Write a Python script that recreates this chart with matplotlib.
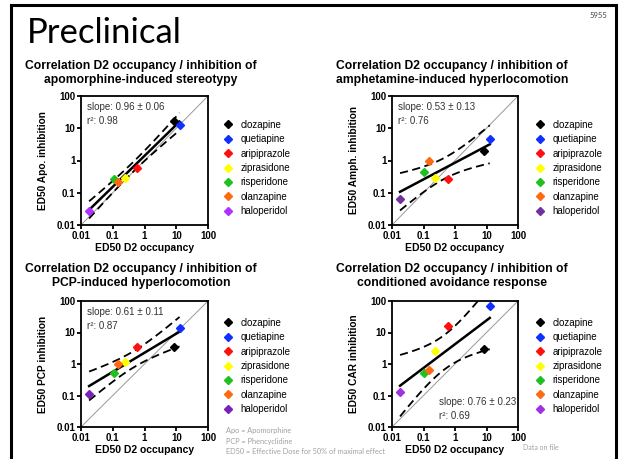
import numpy as np
import matplotlib
matplotlib.use("Agg")
import matplotlib.pyplot as plt
from matplotlib.lines import Line2D
from matplotlib.patches import Rectangle

W, H = 620, 459

drugs = ["clozapine", "quetiapine", "aripiprazole", "ziprasidone",
         "risperidone", "olanzapine", "haloperidol"]
colors = ["#000000", "#1030ff", "#ff1010", "#ffff00", "#20c020", "#ff6a10", "#a030f0"]

# ED50 D2 occupancy (x, same for all panels)
d2_occ = [8.4, 12.7, 0.59, 0.24, 0.107, 0.148, 0.018]

# ED50 of each behavioural test (y)
apo = [16.4, 12.7, 0.59, 0.28, 0.26, 0.22, 0.028]
amph = [2.0, 4.5, 0.26, 0.29, 0.45, 1.0, 0.065]
pcp = [3.5, 13.6, 3.56, 1.18, 0.51, 1.0, 0.115]
car = [3.1, 71.0, 16.3, 2.6, 0.51, 0.665, 0.13]

halo_colors = ["#b030ff", "#7030a0", "#7a20b8", "#a030e0"]

titles = ["Correlation D2 occupancy / inhibition of\napomorphine-induced stereotypy",
          "Correlation D2 occupancy / inhibition of\namphetamine-induced hyperlocomotion",
          "Correlation D2 occupancy / inhibition of\nPCP-induced hyperlocomotion",
          "Correlation D2 occupancy / inhibition of\nconditioned avoidance response"]
ylabels = ["ED50 Apo. inhibition", "ED50 Amph. inhibition",
           "ED50 PCP inhibition", "ED50 CAR inhibition"]
stats = ["slope: 0.96 \u00b1 0.06\nr\u00b2: 0.98",
         "slope: 0.53 \u00b1 0.13\nr\u00b2: 0.76",
         "slope: 0.61 \u00b1 0.11\nr\u00b2: 0.87",
         "slope: 0.76 \u00b1 0.23\nr\u00b2: 0.69"]
footnotes = ["Apo = Apomorphine", "PCP = Phencyclidine",
             "ED50 = Effective Dose for 50% of maximal effect"]
ticks = [0.01, 0.1, 1, 10, 100]
tick_labels = ["0.01", "0.1", "1", "10", "100"]
T95 = 2.5706  # t value, df = 5

plt.rcParams['font.family'] = ['Liberation Sans', 'DejaVu Sans']

fig = plt.figure(figsize=(W / 100, H / 100), dpi=100)

# slide frame
fig.patches.append(Rectangle((11 / W, -0.05), (616 - 11) / W, 1.05 - 5 / H,
                             transform=fig.transFigure, fill=False,
                             edgecolor="black", lw=2.2))
fig.text(27 / W, 1 - 33 / H, "Preclinical", family="Lato", fontsize=25,
         va="center", ha="left")
fig.text(607 / W, 1 - 15 / H, "5955", family="Lato", fontsize=5.5,
         color="#444444", ha="right", va="center")

# pixel boxes: left, right, top, bottom
boxes = [(81, 208, 96, 225), (392, 518, 96, 225),
         (81, 208, 301, 427), (392, 518, 301, 427)]
title_y = [60, 60, 263, 263]
title_x = [141, 452, 141, 452]
leg_pos = [(218, 115), (530, 115), (218, 313), (530, 313)]
ydata = [apo, amph, pcp, car]


def draw_panel(i):
    l, r, t, b = boxes[i]
    ax = fig.add_axes([l / W, 1 - b / H, (r - l) / W, (b - t) / H])
    ax.set_xscale("log")
    ax.set_yscale("log")
    ax.set_xlim(0.01, 100)
    ax.set_ylim(0.01, 100)
    ax.axline((0.01, 0.01), (100, 100), color="#999999", lw=0.7, zorder=1)

    lx = np.log10(d2_occ)
    ly = np.log10(ydata[i])
    n = len(lx)
    slope, icpt = np.polyfit(lx, ly, 1)
    resid = ly - (slope * lx + icpt)
    s = np.sqrt(np.sum(resid ** 2) / (n - 2))
    sxx = np.sum((lx - lx.mean()) ** 2)
    xs = np.linspace(lx.min(), lx.max(), 100)
    fit = slope * xs + icpt
    half = T95 * s * np.sqrt(1 / n + (xs - lx.mean()) ** 2 / sxx)
    ax.plot(10 ** xs, 10 ** fit, color="black", lw=1.8, zorder=2)
    ax.plot(10 ** xs, 10 ** (fit + half), color="black", lw=1.3, ls=(0, (4.5, 2.5)), zorder=2)
    ax.plot(10 ** xs, 10 ** (fit - half), color="black", lw=1.3, ls=(0, (4.5, 2.5)), zorder=2)

    cols = colors[:-1] + [halo_colors[i]]
    handles = []
    for xv, yv, c, name in zip(d2_occ, ydata[i], cols, drugs):
        ax.plot(xv, yv, marker="D", ms=4.3, color=c, mec=c, ls="none", zorder=3)
        handles.append(Line2D([], [], marker="D", ms=4, color=c, ls="none", label=name))

    ax.set_xticks(ticks)
    ax.set_xticklabels(tick_labels)
    ax.set_yticks(ticks)
    ax.set_yticklabels(tick_labels)
    ax.minorticks_off()
    ax.tick_params(labelsize=7, width=1.3, length=3, pad=1)
    for lab in ax.get_xticklabels() + ax.get_yticklabels():
        lab.set_fontweight("bold")
    for sp in ax.spines.values():
        sp.set_linewidth(1.3)
    ax.set_xlabel("ED50 D2 occupancy", fontsize=7.5, fontweight="bold", labelpad=2)
    ax.set_ylabel(ylabels[i], fontsize=7.3, fontweight="bold", labelpad=6)

    if i == 3:
        ax.text(0.37, 0.145, stats[i], transform=ax.transAxes, fontsize=7,
                color="#333333", va="center", linespacing=1.5)
    else:
        ax.text(0.05, 0.86, stats[i], transform=ax.transAxes, fontsize=7,
                color="#333333", va="center", linespacing=1.5)

    fig.text(title_x[i] / W, 1 - title_y[i] / H, titles[i], fontsize=8.7,
             fontweight="bold", ha="center", va="top", linespacing=1.17)
    lx0, ly0 = leg_pos[i]
    fig.legend(handles=handles, loc="upper left",
               bbox_to_anchor=(lx0 / W, 1 - ly0 / H), frameon=False,
               fontsize=7, handlelength=1.0, handletextpad=0.8,
               labelspacing=0.45, borderpad=0)


for i in range(4):
    draw_panel(i)

for k, note in enumerate(footnotes):
    fig.text(226 / W, 1 - (431 + 10.3 * k) / H, note, family="Lato",
             fontsize=5.3, color="#a0a0a0", va="center")
fig.text(523 / W, 1 - 447 / H, "Data on file", family="Lato", fontsize=5,
         color="#a0a0a0", va="center")

fig.savefig("out.png", dpi=100)
